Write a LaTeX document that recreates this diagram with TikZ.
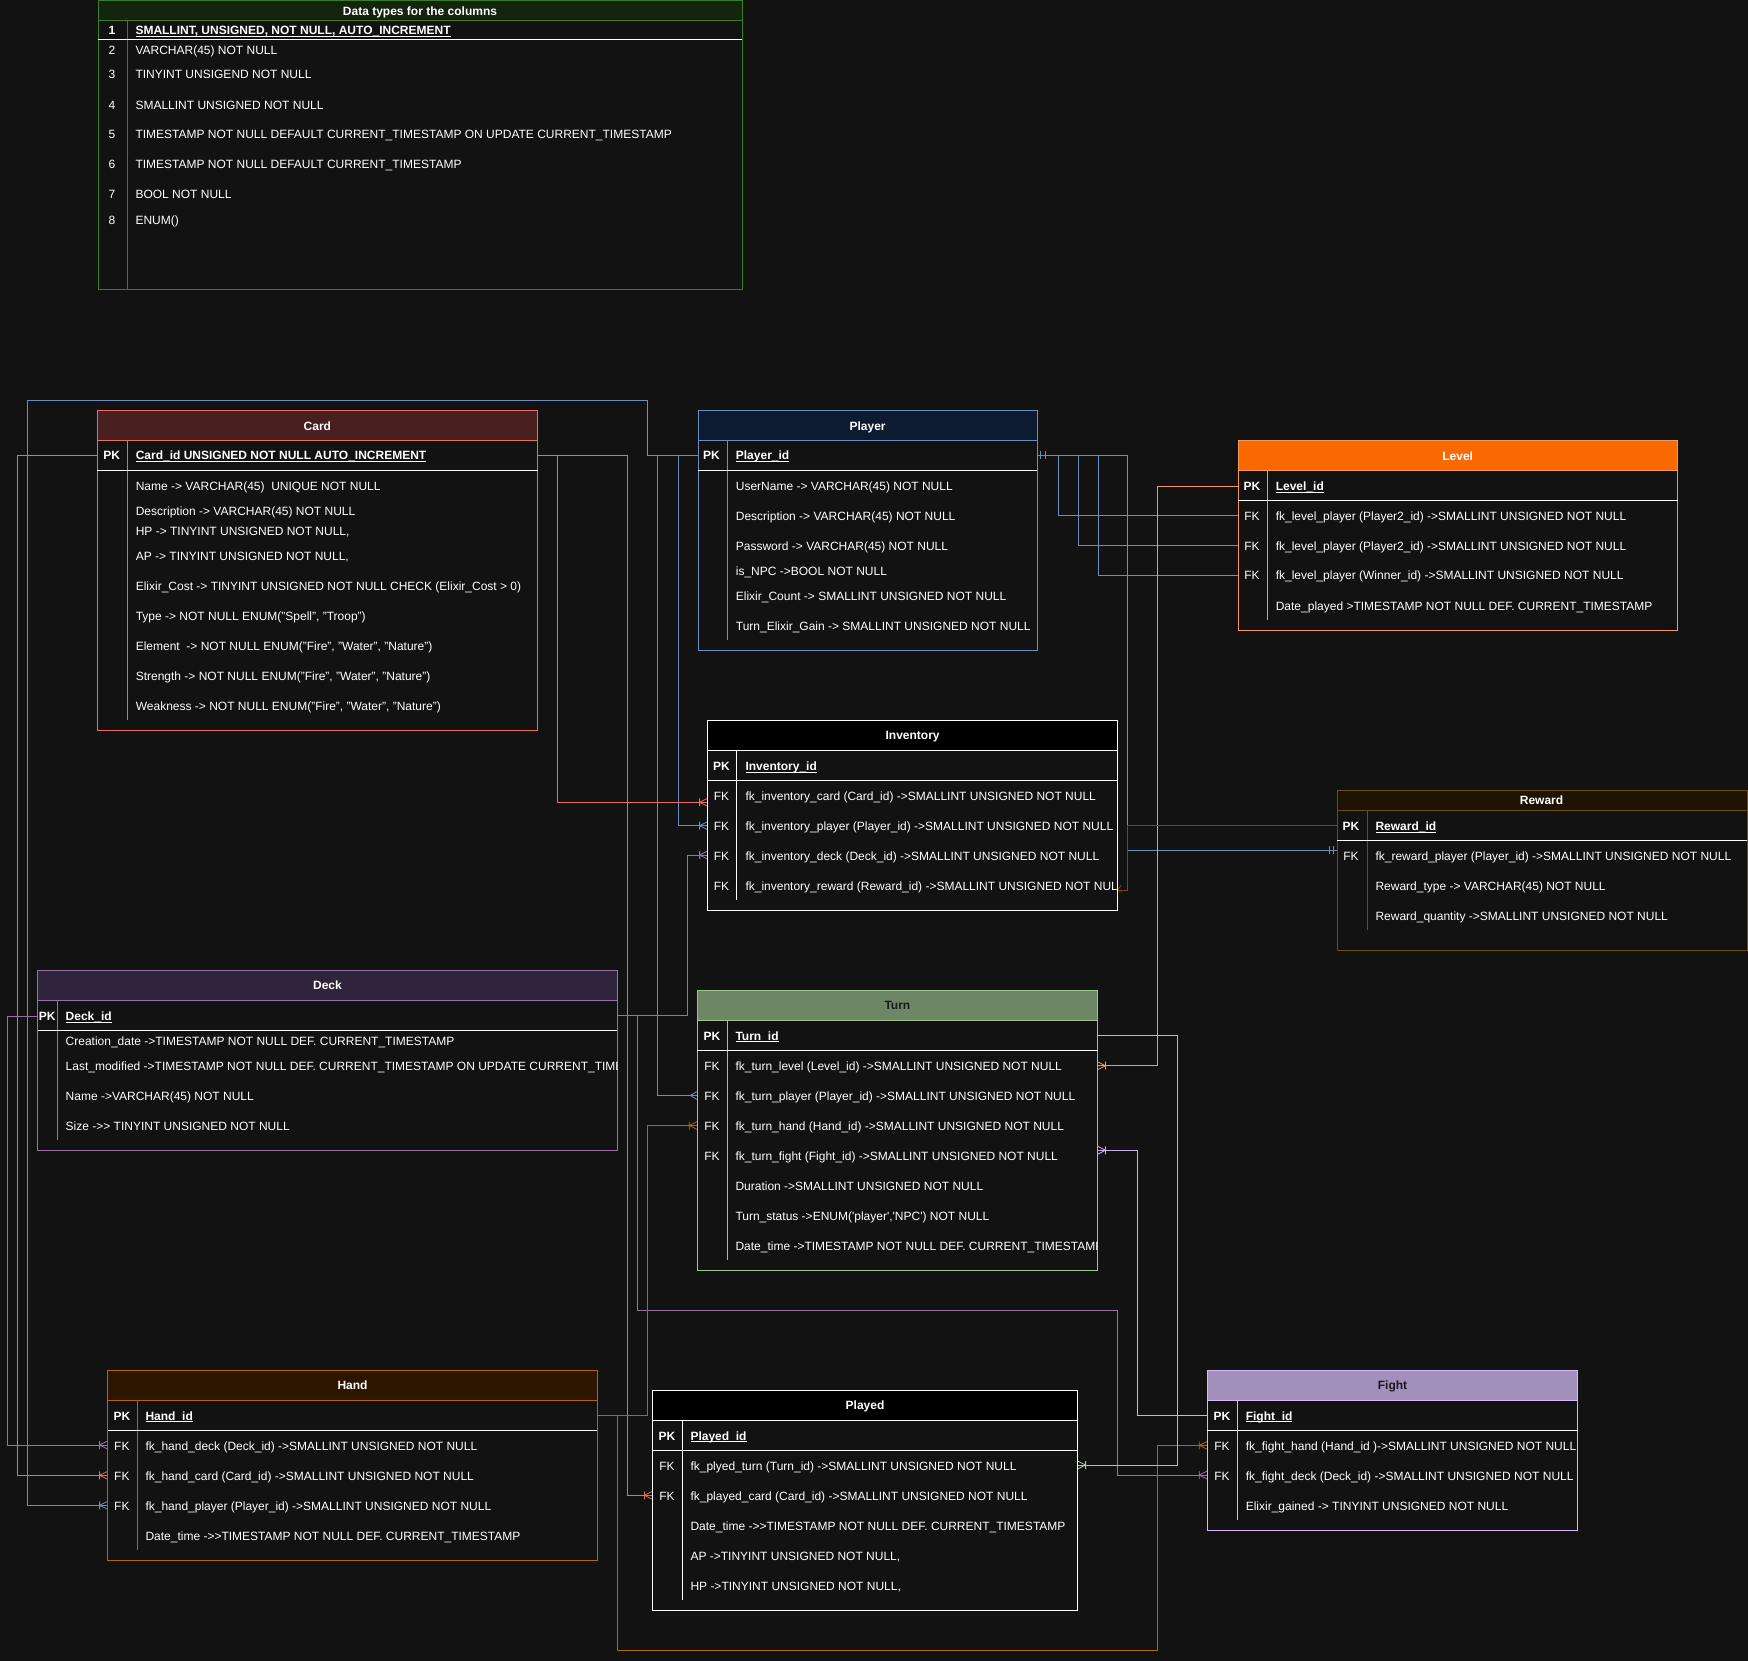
\documentclass[tikz,border=0pt]{standalone}
\usepackage{fontspec}
\setmainfont{Liberation Sans}
\definecolor{bg}{HTML}{121212}
\definecolor{cardB}{HTML}{EA6B66}
\definecolor{cardH}{HTML}{4A1F1F}
\definecolor{playerB}{HTML}{6C8EBF}
\definecolor{playerH}{HTML}{0C1B2F}
\definecolor{levelB}{HTML}{F49A5C}
\definecolor{levelH}{HTML}{FA6800}
\definecolor{rewB}{HTML}{6B4D10}
\definecolor{rewH}{HTML}{1E1200}
\definecolor{deckB}{HTML}{9673A6}
\definecolor{deckH}{HTML}{30233C}
\definecolor{turnB}{HTML}{A0C490}
\definecolor{turnH}{HTML}{6D8764}
\definecolor{handB}{HTML}{B46504}
\definecolor{handH}{HTML}{2D1500}
\definecolor{fightB}{HTML}{D4B9F2}
\definecolor{fightH}{HTML}{A38FBC}
\definecolor{dtB}{HTML}{3B7D23}
\definecolor{dtH}{HTML}{13250E}
\definecolor{greenL}{HTML}{ADC4A2}
\definecolor{lavL}{HTML}{CDB0EA}
\newcommand{\erfs}{\fontsize{12}{14}\selectfont}
\newcommand{\erul}[1]{\setbox0\hbox{#1}\rlap{\rule[-2.2pt]{\wd0}{0.8pt}}\box0}
\newcommand{\erFrame}[8]{%
  \fill[bg] (#1,#2) rectangle (#3,#4);
  \fill[erH] (#1,#2) rectangle (#3,#5);
  \draw[erB] (#1,#2) rectangle (#3,#4);
  \draw[erB] (#1,#5) -- (#3,#5);
  \draw[erB] (#7,#5) -- (#7,#8);
  \draw[white] (#1,#6) -- (#3,#6);}
\newcommand{\erCrowBar}[3]{\begin{scope}[shift={(#1)},xscale=#2]
  \draw[#3,line width=0.8pt] (-8,-4)--(-8,4) (-8,0)--(0,-4) (-8,0)--(0,4);\end{scope}}
\newcommand{\erCrowOnly}[3]{\begin{scope}[shift={(#1)},xscale=#2]
  \draw[#3,line width=0.8pt] (-7,0)--(0,-4) (-7,0)--(0,4);\end{scope}}
\newcommand{\erMandOne}[3]{\begin{scope}[shift={(#1)},xscale=#2]
  \draw[#3,line width=0.8pt] (-3.5,-4)--(-3.5,4) (-8,-4)--(-8,4);\end{scope}}
\begin{document}
\begin{tikzpicture}[x=1pt,y=-1pt,line width=1pt,
  cell/.style={inner sep=0pt,anchor=west,text height=8.6pt,text depth=0pt,text=white,font=\erfs},
  keyc/.style={inner sep=0pt,anchor=center,text height=8.6pt,text depth=0pt,text=white,font=\erfs},
  keyb/.style={keyc,font=\erfs\bfseries},
  pkname/.style={cell,font=\erfs\bfseries},
  ttl/.style={inner sep=0pt,anchor=center,text height=8.6pt,text depth=0pt,text=white,font=\erfs\bfseries},
  ttldark/.style={ttl,text=black!90}]
\fill[bg] (0,0) rectangle (1748,1661);
\useasboundingbox (0,0) rectangle (1748,1661);

% ---------- connection points ----------
\coordinate (card-pkL) at (97.3,455.3);
\coordinate (card-pkR) at (537.5,455.3);
\coordinate (player-pkL) at (698,455.3);
\coordinate (player-pkR) at (1037.2,455.3);
\coordinate (level-pkL) at (1238,486);
\coordinate (level-fk1L) at (1238,515.7);
\coordinate (level-fk2L) at (1238,545.7);
\coordinate (level-fk3L) at (1238,575);
\coordinate (inv-fk1L) at (707.6,802.3);
\coordinate (inv-fk2L) at (707.6,825.7);
\coordinate (inv-fk3L) at (707.6,855);
\coordinate (inv-fk4R) at (1117.6,890);
\coordinate (rew-pkL) at (1337.2,825.7);
\coordinate (rew-fkL) at (1337.2,850.3);
\coordinate (deck-pkL) at (37.5,1016);
\coordinate (deck-pkR) at (617.4,1015.3);
\coordinate (turn-pkR) at (1097.5,1035.7);
\coordinate (turn-fk1R) at (1097.5,1065.7);
\coordinate (turn-fk2L) at (697.2,1095.5);
\coordinate (turn-fk3L) at (697.2,1125.5);
\coordinate (turn-fk4R) at (1097.5,1150.3);
\coordinate (hand-pkR) at (597.3,1415.3);
\coordinate (hand-fk1L) at (107.6,1445);
\coordinate (hand-fk2L) at (107.6,1475.3);
\coordinate (hand-fk3L) at (107.6,1505.3);
\coordinate (played-fk1R) at (1077.6,1465);
\coordinate (played-fk2L) at (652.4,1495.3);
\coordinate (fight-pkL) at (1207.3,1415.3);
\coordinate (fight-fk1L) at (1207.3,1445.3);
\coordinate (fight-fk2L) at (1207.3,1475);

% ---------- connectors ----------
\draw[playerB] (player-pkL) -| (647.3,400.7) -| (27.7,1505.3) -- (hand-fk3L);
\draw[playerB] (player-pkL) -| (657.4,1095.5) -- (turn-fk2L);
\draw[playerB] (player-pkL) -| (678,825.7) -- (inv-fk2L);
\draw[playerB] (player-pkR) -| (1058,515.7) -- (level-fk1L);
\draw[playerB] (player-pkR) -| (1078,545.7) -- (level-fk2L);
\draw[playerB] (player-pkR) -| (1098,575) -- (level-fk3L);
\draw[playerB] (player-pkR) -| (1127.6,850.3) -- (rew-fkL);
\draw[cardB] (card-pkL) -| (17,1475.3) -- (hand-fk2L);
\draw[cardB] (card-pkR) -| (557,802.3) -- (inv-fk1L);
\draw[cardB] (card-pkR) -| (627.7,1495.3) -- (played-fk2L);
\draw[deckB] (deck-pkL) -| (7.6,1445) -- (hand-fk1L);
\draw[deckB] (deck-pkR) -| (687.5,855) -- (inv-fk3L);
\draw[deckB] (deck-pkR) -| (637.1,1310.3) -| (1117.4,1475) -- (fight-fk2L);
\draw[handB] (hand-pkR) -| (647.4,1125.5) -- (turn-fk3L);
\draw[handB] (hand-pkR) -| (617.4,1650) -| (1157.8,1445.3) -- (fight-fk1L);
\draw[levelB] (level-pkL) -| (1157.8,1065.7) -- (turn-fk1R);
\draw[greenL] (turn-pkR) -| (1177.2,1465) -- (played-fk1R);
\draw[lavL] (fight-pkL) -| (1137.3,1150.3) -- (turn-fk4R);
\draw[rewB] (rew-pkL) -| (1127.6,890) -- (inv-fk4R);

% ---------- markers ----------
\erCrowBar{hand-fk1L}{1}{deckB}
\erCrowBar{hand-fk2L}{1}{cardB}
\erCrowBar{hand-fk3L}{1}{playerB}
\erCrowBar{inv-fk1L}{1}{cardB}
\erCrowBar{inv-fk2L}{1}{playerB}
\erCrowBar{inv-fk3L}{1}{deckB}
\erCrowBar{turn-fk3L}{1}{handB}
\erCrowBar{played-fk2L}{1}{cardB}
\erCrowBar{fight-fk1L}{1}{handB}
\erCrowBar{fight-fk2L}{1}{deckB}
\erCrowOnly{turn-fk2L}{1}{playerB}
\erCrowBar{turn-fk1R}{-1}{levelB}
\erCrowBar{turn-fk4R}{-1}{lavL}
\erCrowBar{played-fk1R}{-1}{greenL}
\erMandOne{player-pkR}{-1}{playerB}
\erMandOne{rew-fkL}{1}{playerB}
\draw[rewB,line width=0.8pt] (1113.5,885) -- (1117.5,890) -- (1121.5,885) (1117.5,885) -- (1117.5,893) (1113.5,892) -- (1121.5,892);

% ---------- Data types ----------
\colorlet{erH}{dtH}\colorlet{erB}{dtB}
\erFrame{98}{1}{742}{290}{20.7}{40}{127}{290}
\node[ttl] (dt-title) at (420,11) {Data types for the columns};
\node[keyb] (dt-n1) at (112,30.5) {1};
\node[pkname] (dt-t1) at (135,30.5) {\erul{SMALLINT, UNSIGNED, NOT NULL, AUTO\_INCREMENT}};
\node[keyc] (dt-n2) at (112,50) {2};
\node[cell] (dt-t2) at (135,50) {VARCHAR(45) NOT NULL};
\node[keyc] (dt-n3) at (112,74.7) {3};
\node[cell] (dt-t3) at (135,74.7) {TINYINT UNSIGEND NOT NULL};
\node[keyc] (dt-n4) at (112,105) {4};
\node[cell] (dt-t4) at (135,105) {SMALLINT UNSIGNED NOT NULL};
\node[keyc] (dt-n5) at (112,134.7) {5};
\node[cell] (dt-t5) at (135,134.7) {TIMESTAMP NOT NULL DEFAULT CURRENT\_TIMESTAMP ON UPDATE CURRENT\_TIMESTAMP};
\node[keyc] (dt-n6) at (112,164.7) {6};
\node[cell] (dt-t6) at (135,164.7) {TIMESTAMP NOT NULL DEFAULT CURRENT\_TIMESTAMP};
\node[keyc] (dt-n7) at (112,194.7) {7};
\node[cell] (dt-t7) at (135,194.7) {BOOL NOT NULL};
\node[keyc] (dt-n8) at (112,220) {8};
\node[cell] (dt-t8) at (135,220) {ENUM()};

% ---------- Card ----------
\colorlet{erH}{cardH}\colorlet{erB}{cardB}
\erFrame{97.3}{410.7}{537.5}{730.3}{440.7}{470.3}{127.2}{720}
\node[ttl] (card-title) at (317.4,425.7) {Card};
\node[keyb] (card-pk) at (111.6,455.5) {PK};
\node[pkname] (card-id) at (135.3,455.5) {\erul{Card\_id UNSIGNED NOT NULL AUTO\_INCREMENT}};
\node[cell] (card-r1) at (135.3,485.7) {Name -> VARCHAR(45)\ \ UNIQUE NOT NULL};
\node[cell] (card-r2) at (135.3,510.7) {Description -> VARCHAR(45) NOT NULL};
\node[cell] (card-r3) at (135.3,530.7) {HP -> TINYINT UNSIGNED NOT NULL,};
\node[cell] (card-r4) at (135.3,555.7) {AP -> TINYINT UNSIGNED NOT NULL,};
\node[cell] (card-r5) at (135.3,585.7) {Elixir\_Cost -> TINYINT UNSIGNED NOT NULL CHECK (Elixir\_Cost > 0)};
\node[cell] (card-r6) at (135.3,615.7) {Type -> NOT NULL ENUM("Spell", "Troop")};
\node[cell] (card-r7) at (135.3,645.7) {Element\ \ -> NOT NULL ENUM("Fire", "Water", "Nature")};
\node[cell] (card-r8) at (135.3,675.7) {Strength -> NOT NULL ENUM("Fire", "Water", "Nature")};
\node[cell] (card-r9) at (135.3,705.7) {Weakness -> NOT NULL ENUM("Fire", "Water", "Nature")};

% ---------- Player ----------
\colorlet{erH}{playerH}\colorlet{erB}{playerB}
\erFrame{698}{410.7}{1037.2}{650}{440.7}{470.3}{727.6}{640}
\node[ttl] (player-title) at (867.6,425.7) {Player};
\node[keyb] (player-pk) at (711.4,455.3) {PK};
\node[pkname] (player-id) at (735.4,455.3) {\erul{Player\_id}};
\node[cell] (player-r1) at (735.4,486) {UserName -> VARCHAR(45) NOT NULL};
\node[cell] (player-r2) at (735.4,515.7) {Description -> VARCHAR(45) NOT NULL};
\node[cell] (player-r3) at (735.4,545.7) {Password -> VARCHAR(45) NOT NULL};
\node[cell] (player-r4) at (735.4,570.7) {is\_NPC ->BOOL NOT NULL};
\node[cell] (player-r5) at (735.4,595.7) {Elixir\_Count -> SMALLINT UNSIGNED NOT NULL};
\node[cell] (player-r6) at (735.4,625.7) {Turn\_Elixir\_Gain -> SMALLINT UNSIGNED NOT NULL};

% ---------- Level ----------
\colorlet{erH}{levelH}\colorlet{erB}{levelB}
\erFrame{1238}{440.7}{1677.5}{630}{470.7}{500}{1267.6}{620}
\node[ttl] (level-title) at (1457.7,455.7) {Level};
\node[keyb] (level-pk) at (1252,486) {PK};
\node[pkname] (level-id) at (1275.3,486) {\erul{Level\_id}};
\node[keyc] (level-fk1) at (1252,515.7) {FK};
\node[cell] (level-r1) at (1275.3,515.7) {fk\_level\_player (Player2\_id) ->SMALLINT UNSIGNED NOT NULL};
\node[keyc] (level-fk2) at (1252,545.7) {FK};
\node[cell] (level-r2) at (1275.3,545.7) {fk\_level\_player (Player2\_id) ->SMALLINT UNSIGNED NOT NULL};
\node[keyc] (level-fk3) at (1252,575) {FK};
\node[cell] (level-r3) at (1275.3,575) {fk\_level\_player (Winner\_id) ->SMALLINT UNSIGNED NOT NULL};
\node[cell] (level-r4) at (1275.3,605.7) {Date\_played >TIMESTAMP NOT NULL DEF. CURRENT\_TIMESTAMP};

% ---------- Inventory ----------
\colorlet{erH}{black}\colorlet{erB}{white}
\erFrame{707.6}{720.3}{1117.6}{910.3}{750.7}{780.3}{736.9}{900}
\node[ttl] (inv-title) at (912.6,735.5) {Inventory};
\begin{scope}
\clip (707.6,720.3) rectangle (1117.6,910.3);
\node[keyb] (inv-pk) at (721.5,766) {PK};
\node[pkname] (inv-id) at (745,766) {\erul{Inventory\_id}};
\node[keyc] (inv-fk1) at (721.5,796) {FK};
\node[cell] (inv-r1) at (745,796) {fk\_inventory\_card (Card\_id) ->SMALLINT UNSIGNED NOT NULL};
\node[keyc] (inv-fk2) at (721.5,826) {FK};
\node[cell] (inv-r2) at (745,826) {fk\_inventory\_player (Player\_id) ->SMALLINT UNSIGNED NOT NULL};
\node[keyc] (inv-fk3) at (721.5,855.7) {FK};
\node[cell] (inv-r3) at (745,855.7) {fk\_inventory\_deck (Deck\_id) ->SMALLINT UNSIGNED NOT NULL};
\node[keyc] (inv-fk4) at (721.5,885.7) {FK};
\node[cell] (inv-r4) at (745,885.7) {fk\_inventory\_reward (Reward\_id) ->SMALLINT UNSIGNED NOT NULL};
\end{scope}

% ---------- Reward ----------
\colorlet{erH}{rewH}\colorlet{erB}{rewB}
\erFrame{1337.2}{790.3}{1747}{950}{810.3}{840.3}{1367.2}{930}
\node[ttl] (rew-title) at (1541.5,800.5) {Reward};
\node[keyb] (rew-pk) at (1351,826) {PK};
\node[pkname] (rew-id) at (1375,826) {\erul{Reward\_id}};
\node[keyc] (rew-fk1) at (1351,855.7) {FK};
\node[cell] (rew-r1) at (1375,855.7) {fk\_reward\_player (Player\_id) ->SMALLINT UNSIGNED NOT NULL};
\node[cell] (rew-r2) at (1375,885.7) {Reward\_type -> VARCHAR(45) NOT NULL};
\node[cell] (rew-r3) at (1375,915.7) {Reward\_quantity ->SMALLINT UNSIGNED NOT NULL};

% ---------- Deck ----------
\colorlet{erH}{deckH}\colorlet{erB}{deckB}
\erFrame{37.5}{970.3}{617.4}{1150.3}{1000.3}{1030.3}{57.6}{1140}
\node[ttl] (deck-title) at (327.5,985.5) {Deck};
\begin{scope}
\clip (37.5,970.3) rectangle (617.4,1150.3);
\node[keyb] (deck-pk) at (47.3,1016) {PK};
\node[pkname] (deck-id) at (65.2,1016) {\erul{Deck\_id}};
\node[cell] (deck-r1) at (65.2,1040.7) {Creation\_date ->TIMESTAMP NOT NULL DEF. CURRENT\_TIMESTAMP};
\node[cell] (deck-r2) at (65.2,1065.7) {Last\_modified ->TIMESTAMP NOT NULL DEF. CURRENT\_TIMESTAMP ON UPDATE CURRENT\_TIMESTAMP};
\node[cell] (deck-r3) at (65.2,1095.7) {Name ->VARCHAR(45) NOT NULL};
\node[cell] (deck-r4) at (65.2,1125.7) {Size ->{}> TINYINT UNSIGNED NOT NULL};
\end{scope}

% ---------- Turn ----------
\colorlet{erH}{turnH}\colorlet{erB}{turnB}
\erFrame{697.2}{990.3}{1097.5}{1270.3}{1020.3}{1050.3}{727.4}{1260}
\node[ttldark] (turn-title) at (897.4,1005.5) {Turn};
\begin{scope}
\clip (697.2,990.3) rectangle (1097.5,1270.3);
\node[keyb] (turn-pk) at (712,1035.7) {PK};
\node[pkname] (turn-id) at (735,1035.7) {\erul{Turn\_id}};
\node[keyc] (turn-fk1) at (712,1065.7) {FK};
\node[cell] (turn-r1) at (735,1065.7) {fk\_turn\_level (Level\_id) ->SMALLINT UNSIGNED NOT NULL};
\node[keyc] (turn-fk2) at (712,1095.7) {FK};
\node[cell] (turn-r2) at (735,1095.7) {fk\_turn\_player (Player\_id) ->SMALLINT UNSIGNED NOT NULL};
\node[keyc] (turn-fk3) at (712,1125.7) {FK};
\node[cell] (turn-r3) at (735,1125.7) {fk\_turn\_hand (Hand\_id) ->SMALLINT UNSIGNED NOT NULL};
\node[keyc] (turn-fk4) at (712,1155.7) {FK};
\node[cell] (turn-r4) at (735,1155.7) {fk\_turn\_fight (Fight\_id) ->SMALLINT UNSIGNED NOT NULL};
\node[cell] (turn-r5) at (735,1185.7) {Duration ->SMALLINT UNSIGNED NOT NULL};
\node[cell] (turn-r6) at (735,1215.7) {Turn\_status ->ENUM(\textquotesingle player\textquotesingle,\textquotesingle NPC\textquotesingle) NOT NULL};
\node[cell] (turn-r7) at (735,1245.7) {Date\_time ->TIMESTAMP NOT NULL DEF. CURRENT\_TIMESTAMP};
\end{scope}

% ---------- Hand ----------
\colorlet{erH}{handH}\colorlet{erB}{handB}
\erFrame{107.6}{1370.3}{597.3}{1560.3}{1400.3}{1430.3}{137.5}{1550}
\node[ttl] (hand-title) at (352.5,1385.5) {Hand};
\node[keyb] (hand-pk) at (121.9,1415.7) {PK};
\node[pkname] (hand-id) at (145,1415.7) {\erul{Hand\_id}};
\node[keyc] (hand-fk1) at (121.9,1445.7) {FK};
\node[cell] (hand-r1) at (145,1445.7) {fk\_hand\_deck (Deck\_id) ->SMALLINT UNSIGNED NOT NULL};
\node[keyc] (hand-fk2) at (121.9,1475.7) {FK};
\node[cell] (hand-r2) at (145,1475.7) {fk\_hand\_card (Card\_id) ->SMALLINT UNSIGNED NOT NULL};
\node[keyc] (hand-fk3) at (121.9,1505.7) {FK};
\node[cell] (hand-r3) at (145,1505.7) {fk\_hand\_player (Player\_id) ->SMALLINT UNSIGNED NOT NULL};
\node[cell] (hand-r4) at (145,1535.7) {Date\_time ->{}>TIMESTAMP NOT NULL DEF. CURRENT\_TIMESTAMP};

% ---------- Played ----------
\colorlet{erH}{black}\colorlet{erB}{white}
\erFrame{652.4}{1390.3}{1077.6}{1610.3}{1420.3}{1450.3}{682.3}{1600}
\node[ttl] (played-title) at (865,1405.5) {Played};
\node[keyb] (played-pk) at (667,1435.7) {PK};
\node[pkname] (played-id) at (690,1435.7) {\erul{Played\_id}};
\node[keyc] (played-fk1) at (667,1465.7) {FK};
\node[cell] (played-r1) at (690,1465.7) {fk\_plyed\_turn (Turn\_id) ->SMALLINT UNSIGNED NOT NULL};
\node[keyc] (played-fk2) at (667,1495.7) {FK};
\node[cell] (played-r2) at (690,1495.7) {fk\_played\_card (Card\_id) ->SMALLINT UNSIGNED NOT NULL};
\node[cell] (played-r3) at (690,1525.7) {Date\_time ->{}>TIMESTAMP NOT NULL DEF. CURRENT\_TIMESTAMP};
\node[cell] (played-r4) at (690,1555.7) {AP ->TINYINT UNSIGNED NOT NULL,};
\node[cell] (played-r5) at (690,1585.7) {HP ->TINYINT UNSIGNED NOT NULL,};

% ---------- Fight ----------
\colorlet{erH}{fightH}\colorlet{erB}{fightB}
\erFrame{1207.3}{1370.3}{1577.7}{1530.3}{1400.3}{1430.3}{1237.3}{1520}
\node[ttldark] (fight-title) at (1392.5,1385.5) {Fight};
\begin{scope}
\clip (1207.3,1370.3) rectangle (1577.7,1530.3);
\node[keyb] (fight-pk) at (1222,1415.7) {PK};
\node[pkname] (fight-id) at (1245.3,1415.7) {\erul{Fight\_id}};
\node[keyc] (fight-fk1) at (1222,1445.7) {FK};
\node[cell] (fight-r1) at (1245.3,1445.7) {fk\_fight\_hand (Hand\_id )->SMALLINT UNSIGNED NOT NULL};
\node[keyc] (fight-fk2) at (1222,1475.7) {FK};
\node[cell] (fight-r2) at (1245.3,1475.7) {fk\_fight\_deck (Deck\_id) ->SMALLINT UNSIGNED NOT NULL};
\node[cell] (fight-r3) at (1245.3,1505.7) {Elixir\_gained -> TINYINT UNSIGNED NOT NULL};
\end{scope}
\end{tikzpicture}
\end{document}
